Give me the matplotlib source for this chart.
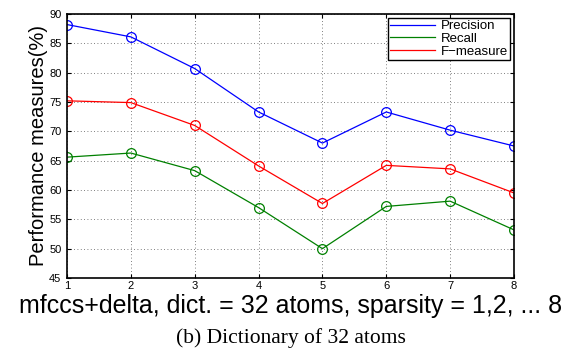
import matplotlib
matplotlib.use("Agg")
import matplotlib.pyplot as plt

sparsity = [1, 2, 3, 4, 5, 6, 7, 8]
precision = [88.2, 86.1, 80.7, 73.3, 68.0, 73.3, 70.2, 67.5]
recall = [65.6, 66.3, 63.3, 57.0, 50.0, 57.2, 58.1, 53.2]
fmeasure = [75.2, 74.9, 71.0, 64.1, 57.7, 64.2, 63.6, 59.5]
yticks = [45, 50, 55, 60, 65, 70, 75, 80, 85, 90]

plt.rcParams['font.family'] = ['Liberation Sans', 'DejaVu Sans']

fig = plt.figure(figsize=(5.81, 3.48), dpi=100)
ax = fig.add_axes([67/581, 1-278/348, (514-67)/581, (278-14)/348])

mk = dict(marker='o', markersize=7, markerfacecolor='none', linewidth=0.9, markeredgewidth=0.9)
ax.plot(sparsity, precision, color='#0000ff', label='Precision', **mk)
ax.plot(sparsity, recall, color='#008000', label='Recall', **mk)
ax.plot(sparsity, fmeasure, color='#ff0000', label='F\u2212measure', **mk)

ax.set_xlim(1, 8)
ax.set_ylim(45, 90)
ax.set_xticks(sparsity)
ax.set_yticks(yticks)
ax.tick_params(direction='in', top=True, right=True, labelsize=8, length=3, width=0.8)
ax.tick_params(axis='x', pad=2)
ax.tick_params(axis='y', pad=4)
ax.grid(True, linestyle=(0, (1, 3)), color='#555555', linewidth=0.6)
for s in ax.spines.values():
    s.set_linewidth(1.2)

ax.set_ylabel('Performance measures(%)', fontsize=14.5, labelpad=1)
ax.set_xlabel('mfccs+delta, dict. = 32 atoms, sparsity = 1,2, ... 8', fontsize=18, labelpad=2)

leg = ax.legend(loc='upper right', fontsize=9.5, fancybox=False, framealpha=1,
                edgecolor='black', borderpad=0.15, labelspacing=0.05, handlelength=3.4,
                handletextpad=0.45, borderaxespad=0.3)
for h in leg.legend_handles:
    h.set_marker('')
leg.get_frame().set_linewidth(1.0)

fig.text(0.5, 1-338/348, '(b) Dictionary of 32 atoms', ha='center', va='center',
         fontsize=15.5, family='Liberation Serif')

fig.savefig('out.png', dpi=100)
